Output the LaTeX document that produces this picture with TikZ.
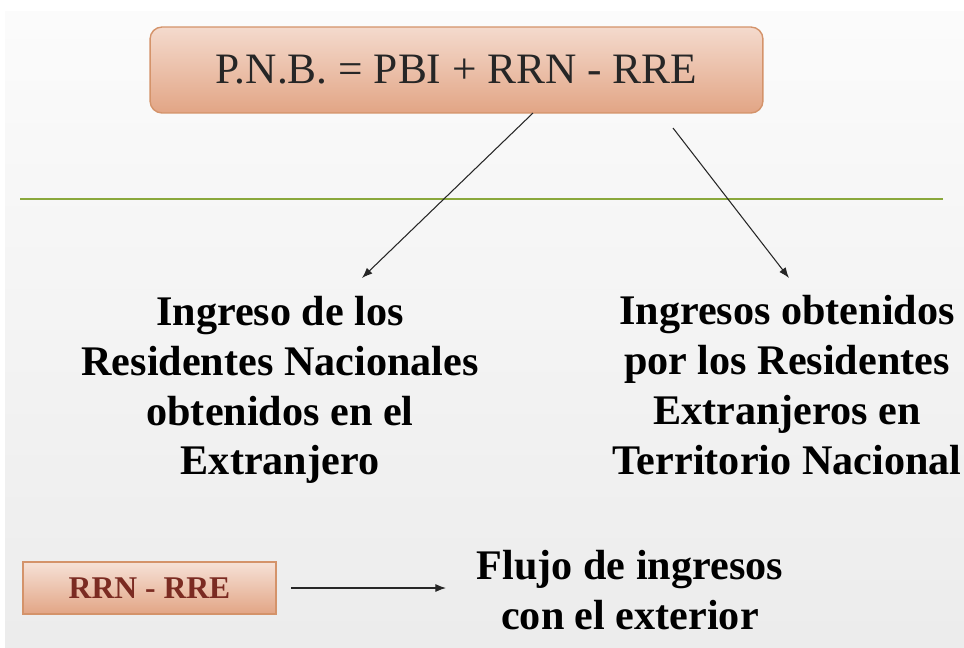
\documentclass[tikz,border=0pt]{standalone}
\usepackage{fontspec}
\setmainfont{Liberation Serif}
\usetikzlibrary{arrows.meta}
\definecolor{boxtop}{HTML}{F4DACD}
\definecolor{boxbot}{HTML}{E2A585}
\definecolor{boxline}{HTML}{D4936A}
\definecolor{rrtext}{HTML}{7B2B22}
\definecolor{linegreen}{HTML}{8AA83C}
\tikzset{
  pnbbox/.style={rounded corners=0.24cm, draw=boxline, line width=0.8pt,
    top color=boxtop, bottom color=boxbot, minimum width=12.26cm,
    minimum height=1.72cm, text=black!85,
    font=\fontsize{24.7}{28}\selectfont},
  rrbox/.style={draw=boxline, line width=0.6pt, top color=boxtop!80!white,
    bottom color=boxbot, minimum width=5.06cm, minimum height=1.04cm,
    text=rrtext, font=\fontsize{18}{21}\selectfont\bfseries},
  bigtext/.style={align=center, font=\fontsize{24}{28.4}\selectfont\bfseries},
  arr/.style={-{Latex[length=6pt,width=4.5pt]}, line width=0.6pt, black!85}
}
\begin{document}
\begin{tikzpicture}[x=0.02cm, y=-0.02cm]
    \fill[white] (0,0) rectangle (964,647);
    \shade[top color=gray!3, bottom color=gray!15] (5,11) rectangle (964,647);
    \useasboundingbox (0,0) rectangle (964,647);
      \node[pnbbox] (pnb) at (456.5,70) {P.N.B. = PBI + RRN - RRE};
      \draw[linegreen, line width=1.1pt] (20,199) -- (943,199);
      \node[bigtext] (rrn) at (280,390) {Ingreso de los\\Residentes Nacionales\\obtenidos en el\\Extranjero};
      \node[bigtext] (rre) at (787,385) {Ingresos obtenidos\\por los Residentes\\Extranjeros en\\Territorio Nacional};
      \node[rrbox] (rr) at (149.5,588) {RRN - RRE};
      \node[bigtext] (flujo) at (630,590) {Flujo de ingresos\\con el exterior};
      \coordinate (a1) at (533,113);
      \coordinate (b1) at (362,278);
      \coordinate (a2) at (673,128);
      \coordinate (b2) at (789,278);
      \coordinate (a3) at (291,588);
      \coordinate (b3) at (446,588);
      \draw[arr] (a1) -- (b1);
      \draw[arr] (a2) -- (b2);
      \draw[arr] (a3) -- (b3);
\end{tikzpicture}
\end{document}
